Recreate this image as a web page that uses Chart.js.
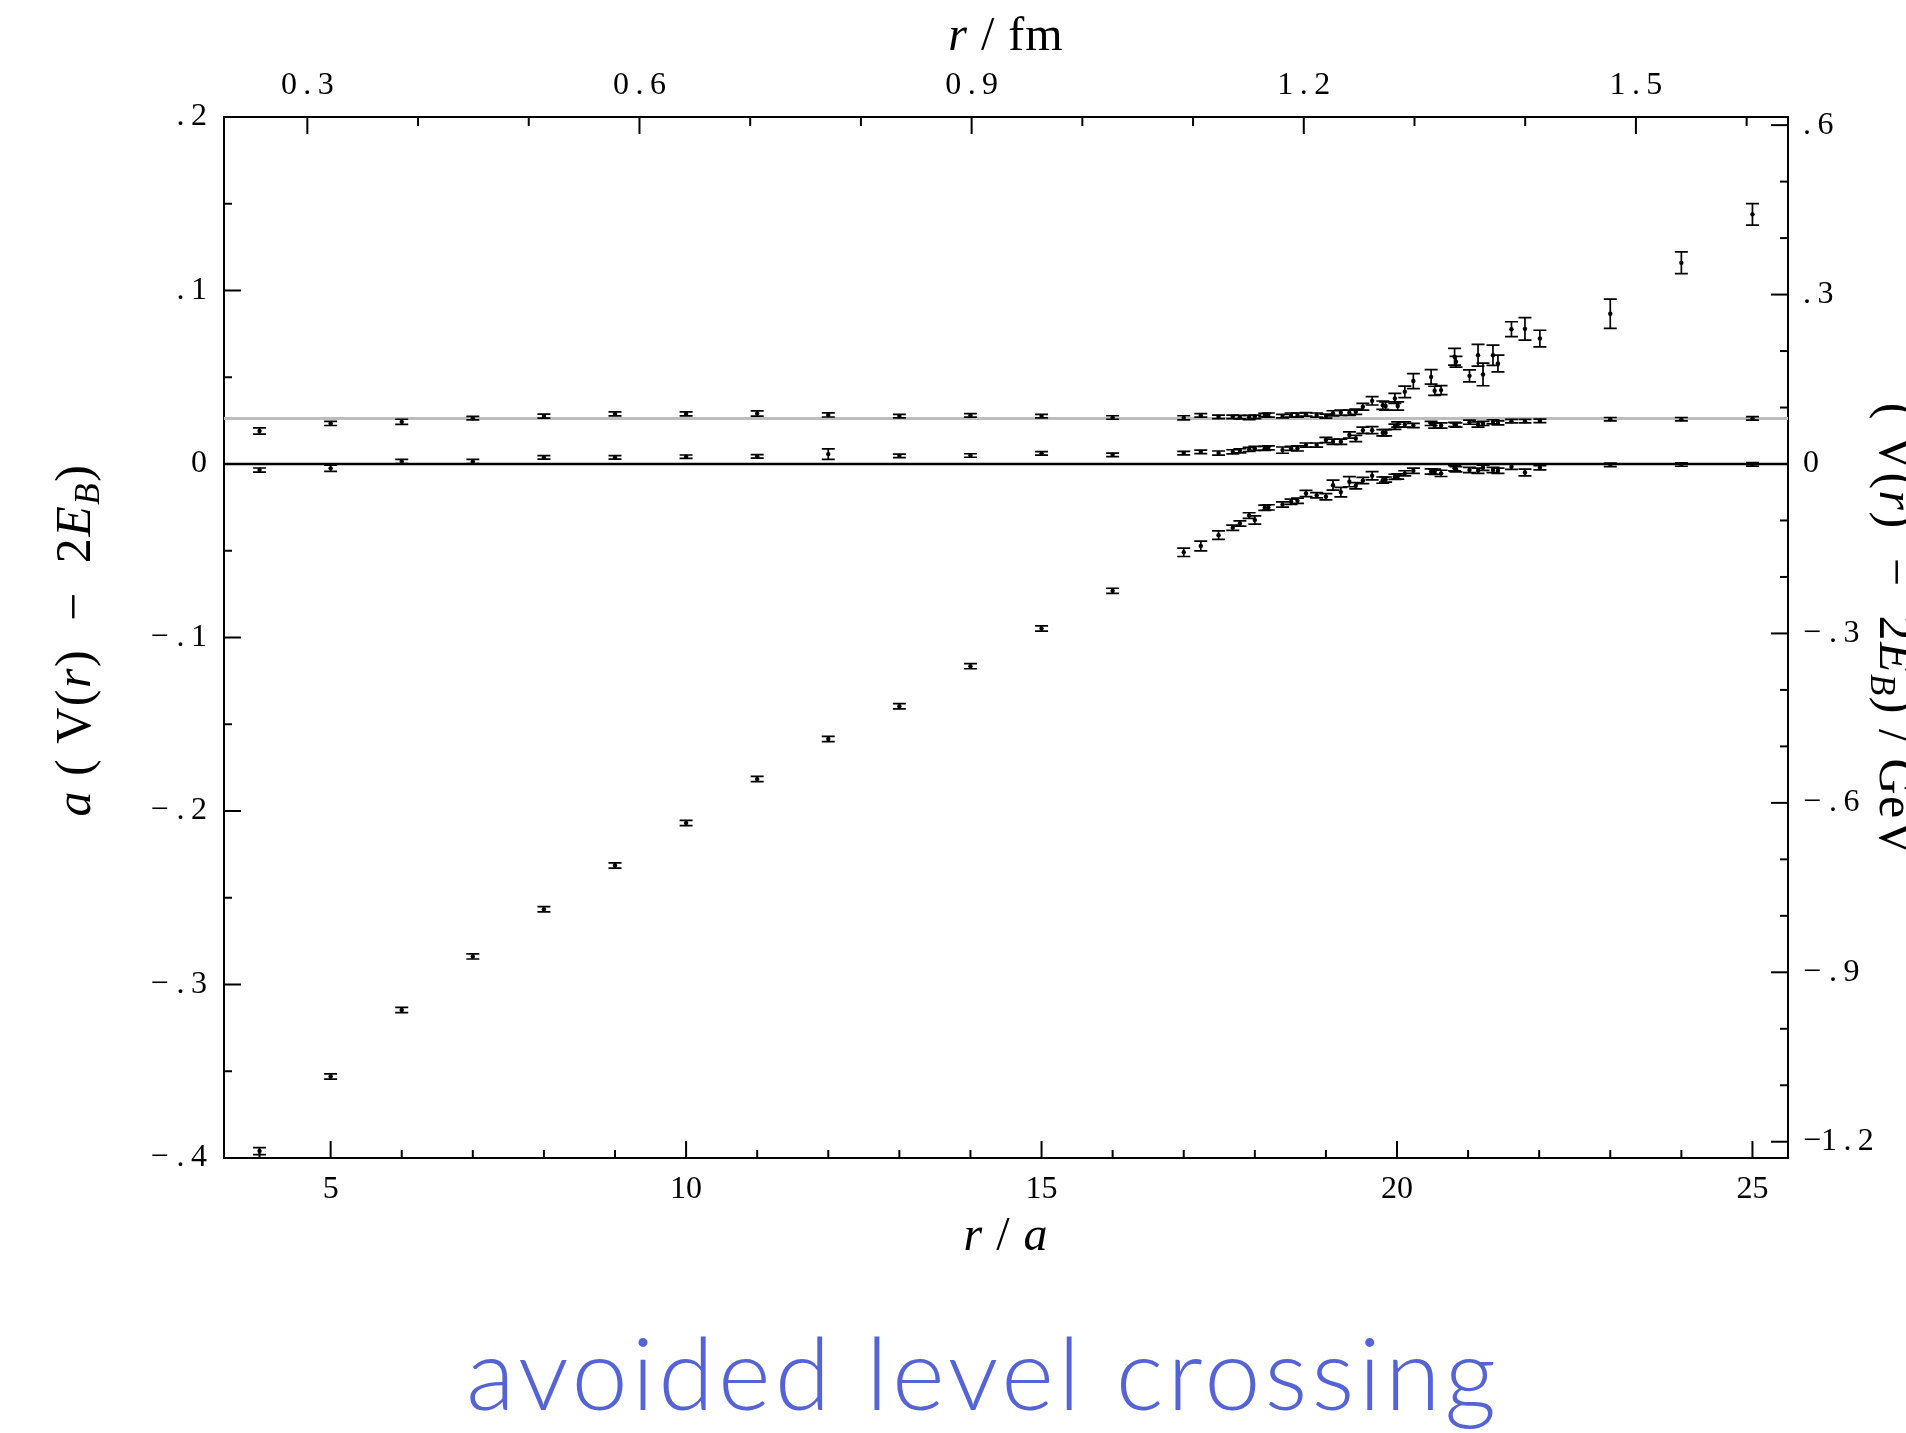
<!DOCTYPE html>
<html>
<head>
<meta charset="utf-8">
<script src="https://cdn.jsdelivr.net/npm/chart.js@4.4.1/dist/chart.umd.min.js"></script>
<style>
  html, body { margin: 0; padding: 0; background: #fff; }
  #wrap { position: relative; width: 1906px; height: 1433px; overflow: hidden; }
  #chart { position: absolute; left: 0; top: 0; }
  #caption {
    position: absolute; left: 983px; top: 1321px; transform: translateX(-50%);
    font-family: Lato, "Open Sans", sans-serif; font-weight: 300; font-size: 101px; line-height: 1;
    letter-spacing: 4px; color: #5563d8; white-space: nowrap;
  }
</style>
</head>
<body>
<div id="wrap">
  <canvas id="chart" width="1906" height="1433"></canvas>
  <div id="caption">avoided level crossing</div>
</div>
<script>
// lattice spacing used for the physical axes
const A_FM = 0.06421;        // a in fm
const A_INV_GEV = 3.072;     // 1/a in GeV
const X_MIN = 3.5, X_MAX = 25.5;
const Y_MIN = -0.4, Y_MAX = 0.2;

// separations r/a
const rValues = [
  4, 5, 6, 7, 8, 9, 10, 11, 12, 13, 14, 15, 16,
  17.00, 17.24, 17.49, 17.69, 17.79, 17.92,
  18.00, 18.14, 18.19, 18.39, 18.51, 18.60, 18.72, 18.87,
  19.00, 19.10, 19.21, 19.33, 19.42, 19.52, 19.65, 19.80, 19.84, 19.97,
  20.01, 20.11, 20.23, 20.48, 20.53, 20.62, 20.81, 20.83,
  21.02, 21.14, 21.21, 21.35, 21.42, 21.61, 21.80,
  22.01,
  23, 24, 25
];

// ground state (string -> broken string)
const groundValues = [
  -0.396, -0.353, -0.3147, -0.2838, -0.2566, -0.2314, -0.2069, -0.1816, -0.1585, -0.1396, -0.1165, -0.0948, -0.0731,
  -0.0509, -0.0473, -0.0410, -0.0367, -0.0343, -0.0297,
  -0.0323, -0.0252, -0.0250, -0.0233, -0.0218, -0.0212, -0.0170, -0.0180,
  -0.0189, -0.0122, -0.0162, -0.0102, -0.0125, -0.0095, -0.0068, -0.0093, -0.0090, -0.0074,
  -0.0072, -0.0054, -0.0039, -0.0043, -0.0045, -0.0054, -0.0025, -0.0030,
  -0.0035, -0.0039, -0.0022, -0.0035, -0.0039, -0.0016, -0.0049,
  -0.0022,
  -0.0005, -0.0003, -0.0002
];
const groundErrors = [
  0.0020, 0.0015, 0.0015, 0.0015, 0.0015, 0.0015, 0.0015, 0.0015, 0.0015, 0.0015, 0.0015, 0.0015, 0.0015,
  0.0024, 0.0028, 0.0025, 0.0015, 0.0015, 0.0016,
  0.0024, 0.0015, 0.0015, 0.0015, 0.0015, 0.0015, 0.0018, 0.0015,
  0.0018, 0.0029, 0.0027, 0.0029, 0.0018, 0.0018, 0.0024, 0.0018, 0.0015, 0.0015,
  0.0015, 0.0015, 0.0015, 0.0015, 0.0015, 0.0018, 0.0015, 0.0015,
  0.0015, 0.0015, 0.0015, 0.0015, 0.0015, 0.0015, 0.0020,
  0.0012,
  0.0010, 0.0010, 0.0010
];

// first excited state
const excited1Values = [
  -0.0035, -0.0025, 0.0015, 0.0015, 0.0038, 0.0038, 0.0042, 0.0044, 0.0057, 0.0047, 0.0049, 0.0061, 0.0053,
  0.0063, 0.0070, 0.0063, 0.0070, 0.0076, 0.0084,
  0.0090, 0.0090, 0.0093, 0.0080, 0.0090, 0.0090, 0.0109, 0.0109,
  0.0138, 0.0128, 0.0128, 0.0167, 0.0147, 0.0195, 0.0195, 0.0180, 0.0180, 0.0215,
  0.0228, 0.0228, 0.0222, 0.0234, 0.0222, 0.0222, 0.0228, 0.0225,
  0.0241, 0.0228, 0.0234, 0.0243, 0.0237, 0.0247, 0.0247,
  0.0249,
  0.0258, 0.0258, 0.0263
];
const excited1Errors = [
  0.0012, 0.0018, 0.0012, 0.0012, 0.0010, 0.0010, 0.0010, 0.0010, 0.0030, 0.0010, 0.0010, 0.0010, 0.0010,
  0.0010, 0.0010, 0.0012, 0.0012, 0.0012, 0.0012,
  0.0012, 0.0012, 0.0012, 0.0018, 0.0012, 0.0015, 0.0012, 0.0012,
  0.0015, 0.0015, 0.0015, 0.0018, 0.0018, 0.0018, 0.0020, 0.0018, 0.0018, 0.0015,
  0.0015, 0.0015, 0.0012, 0.0012, 0.0015, 0.0015, 0.0012, 0.0012,
  0.0012, 0.0015, 0.0012, 0.0012, 0.0012, 0.0010, 0.0010,
  0.0010,
  0.0010, 0.0010, 0.0010
];

// second excited state
const excited2Values = [
  0.0190, 0.0234, 0.0243, 0.0264, 0.0276, 0.0289, 0.0289, 0.0291, 0.0283, 0.0276, 0.0280, 0.0276, 0.0268,
  0.0266, 0.0280, 0.0272, 0.0272, 0.0270, 0.0268,
  0.0272, 0.0282, 0.0282, 0.0276, 0.0282, 0.0282, 0.0286, 0.0282,
  0.0276, 0.0292, 0.0295, 0.0295, 0.0301, 0.0330, 0.0364, 0.0339, 0.0334, 0.0378,
  0.0334, 0.0416, 0.0478, 0.0502, 0.0422, 0.0426, 0.0618, 0.0589,
  0.0508, 0.0627, 0.0516, 0.0627, 0.0579, 0.0777, 0.0779,
  0.0723,
  0.0866, 0.1160, 0.1439
];
const excited2Errors = [
  0.0018, 0.0012, 0.0015, 0.0010, 0.0012, 0.0012, 0.0012, 0.0015, 0.0012, 0.0010, 0.0010, 0.0010, 0.0010,
  0.0012, 0.0010, 0.0010, 0.0010, 0.0010, 0.0012,
  0.0010, 0.0010, 0.0012, 0.0010, 0.0012, 0.0012, 0.0010, 0.0012,
  0.0012, 0.0015, 0.0015, 0.0015, 0.0015, 0.0019, 0.0024, 0.0024, 0.0024, 0.0029,
  0.0024, 0.0033, 0.0043, 0.0042, 0.0026, 0.0026, 0.0048, 0.0031,
  0.0035, 0.0063, 0.0065, 0.0058, 0.0048, 0.0043, 0.0065,
  0.0048,
  0.0084, 0.0063, 0.0062
];

// reference levels: 2E_B (black) and threshold (grey)
const levelValues = [0, 0.0262];
const levelColors = ['#000000', '#bdbdbd'];

// tick labels
const xTicks = [5, 10, 15, 20, 25];
const xTickLabels = ['5', '10', '15', '20', '25'];
const yTicks = [-0.4, -0.3, -0.2, -0.1, 0, 0.1, 0.2];
const yTickLabels = ['\u2212 .\u20094', '\u2212 .\u20093', '\u2212 .\u20092', '\u2212 .\u20091', '0', '.\u20091', '.\u20092'];
const fmTicks = [0.3, 0.6, 0.9, 1.2, 1.5];
const fmTickLabels = ['0\u2009.\u20093', '0\u2009.\u20096', '0\u2009.\u20099', '1\u2009.\u20092', '1\u2009.\u20095'];
const gevTicks = [-1.2, -0.9, -0.6, -0.3, 0, 0.3, 0.6];
const gevTickLabels = ['\u22121\u2009.\u20092', '\u2212 .\u20099', '\u2212 .\u20096', '\u2212 .\u20093', '0', '.\u20093', '.\u20096'];

const SERIF = '"Liberation Serif", "DejaVu Serif", serif';

function points(values) {
  return rValues.map((r, i) => ({ x: r, y: values[i] }));
}

const datasets = [
  { data: points(groundValues), errors: groundErrors },
  { data: points(excited1Values), errors: excited1Errors },
  { data: points(excited2Values), errors: excited2Errors }
].map(d => Object.assign(d, {
  type: 'scatter',
  pointRadius: 2.2,
  pointBackgroundColor: '#000',
  pointBorderWidth: 0,
  order: 0
}));

levelValues.forEach((v, i) => {
  datasets.push({
    type: 'line',
    data: [{ x: X_MIN, y: v }, { x: X_MAX, y: v }],
    borderColor: levelColors[i],
    borderWidth: i === 0 ? 2.5 : 3,
    pointRadius: 0,
    order: 10 - i
  });
});

// vertical error bars with caps
const errorBars = {
  id: 'errorBars',
  afterDatasetsDraw(chart) {
    const { ctx } = chart;
    const xs = chart.scales.x, ys = chart.scales.y;
    ctx.save();
    ctx.strokeStyle = '#000';
    ctx.lineWidth = 1.7;
    chart.data.datasets.forEach(ds => {
      if (!ds.errors) return;
      ds.data.forEach((p, i) => {
        const px = xs.getPixelForValue(p.x);
        const top = ys.getPixelForValue(p.y + ds.errors[i]);
        const bot = ys.getPixelForValue(p.y - ds.errors[i]);
        ctx.beginPath();
        ctx.moveTo(px, top); ctx.lineTo(px, bot);
        ctx.moveTo(px - 6.5, top); ctx.lineTo(px + 6.5, top);
        ctx.moveTo(px - 6.5, bot); ctx.lineTo(px + 6.5, bot);
        ctx.stroke();
      });
    });
    ctx.restore();
  }
};

// inward tick marks on all four sides
const tickMarks = {
  id: 'tickMarks',
  afterDraw(chart) {
    const { ctx, chartArea: a, scales } = chart;
    const seg = (x1, y1, x2, y2) => { ctx.beginPath(); ctx.moveTo(x1, y1); ctx.lineTo(x2, y2); ctx.stroke(); };
    ctx.save();
    ctx.strokeStyle = '#000';
    ctx.lineWidth = 2;
    for (let k = 4; k <= 25; k++) {
      const px = scales.x.getPixelForValue(k);
      seg(px, a.bottom, px, a.bottom - (k % 5 === 0 ? 17 : 8));
    }
    for (let k = 3; k <= 16; k++) {
      const px = scales.x2.getPixelForValue(k / 10);
      seg(px, a.top, px, a.top + (k % 3 === 0 ? 17 : 9));
    }
    for (let k = -8; k <= 4; k++) {
      const py = scales.y.getPixelForValue(k * 0.05);
      seg(a.left, py, a.left + (k % 2 === 0 ? 17 : 8), py);
    }
    for (let k = -12; k <= 6; k++) {
      const py = scales.y2.getPixelForValue(k / 10);
      seg(a.right, py, a.right - (k % 3 === 0 ? 17 : 8), py);
    }
    ctx.restore();
  }
};

// axis titles with italic symbols and subscripts
function richText(ctx, parts, size, cx, cy, angle, spacing) {
  const fontFor = st => (st === 'n' ? '' : 'italic ') + (st === 's' ? size * 0.7 : size) + 'px ' + SERIF;
  ctx.save();
  ctx.letterSpacing = spacing + 'px';
  let total = 0;
  const widths = parts.map(([t, st]) => { ctx.font = fontFor(st); const w = ctx.measureText(t).width; total += w; return w; });
  ctx.translate(cx, cy);
  ctx.rotate(angle);
  ctx.fillStyle = '#000';
  ctx.textBaseline = 'alphabetic';
  ctx.textAlign = 'left';
  let x = -total / 2;
  parts.forEach(([t, st], i) => {
    ctx.font = fontFor(st);
    ctx.fillText(t, x, st === 's' ? size * 0.18 : 0);
    x += widths[i];
  });
  ctx.restore();
}

const axisTitles = {
  id: 'axisTitles',
  afterDraw(chart) {
    const { ctx, chartArea: a } = chart;
    const mid = (a.left + a.right) / 2;
    richText(ctx, [['r', 'i'], [' / ', 'n'], ['a', 'i']], 48, mid, 1250, 0, 1);
    richText(ctx, [['r', 'i'], [' / fm', 'n']], 48, mid, 50, 0, 1);
    richText(ctx, [['a', 'i'], [' ( V(', 'n'], ['r', 'i'], [')  \u2212  2', 'n'], ['E', 'i'], ['B', 's'], [')', 'n']],
      50, 90, 640, -Math.PI / 2, 1.5);
    richText(ctx, [['( V(', 'n'], ['r', 'i'], [')  \u2212  2', 'n'], ['E', 'i'], ['B', 's'], [') / GeV', 'n']],
      50, 1880, 630, Math.PI / 2, 1.5);
  }
};

function fixedTicks(values) {
  return scale => { scale.ticks = values.map(v => ({ value: v })); };
}
function fixedSize(prop, size) {
  return scale => { scale[prop] = size; };
}

const tickFont = { family: SERIF, size: 32 };
const border = { display: true, color: '#000', width: 2 };
const noGrid = { display: false, drawTicks: false };

new Chart(document.getElementById('chart'), {
  type: 'scatter',
  data: { datasets },
  options: {
    responsive: false,
    animation: false,
    devicePixelRatio: 1,
    layout: { padding: 0 },
    plugins: { legend: { display: false }, tooltip: { enabled: false } },
    scales: {
      x: {
        type: 'linear', position: 'bottom', min: X_MIN, max: X_MAX,
        afterBuildTicks: fixedTicks(xTicks),
        afterFit: fixedSize('height', 1433 - 1158),
        grid: noGrid, border,
        ticks: { font: tickFont, color: '#000', padding: 12, maxRotation: 0, autoSkip: false,
                 callback: (v, i) => xTickLabels[i] }
      },
      x2: {
        type: 'linear', position: 'top', min: X_MIN * A_FM, max: X_MAX * A_FM,
        afterBuildTicks: fixedTicks(fmTicks),
        afterFit: fixedSize('height', 117),
        grid: noGrid, border,
        ticks: { font: tickFont, color: '#000', padding: 12, maxRotation: 0, autoSkip: false,
                 callback: (v, i) => fmTickLabels[i] }
      },
      y: {
        type: 'linear', position: 'left', min: Y_MIN, max: Y_MAX,
        afterBuildTicks: fixedTicks(yTicks),
        afterFit: fixedSize('width', 224),
        grid: noGrid, border,
        ticks: { font: tickFont, color: '#000', padding: 17, autoSkip: false,
                 callback: (v, i) => yTickLabels[i] }
      },
      y2: {
        type: 'linear', position: 'right', min: Y_MIN * A_INV_GEV, max: Y_MAX * A_INV_GEV,
        afterBuildTicks: fixedTicks(gevTicks),
        afterFit: fixedSize('width', 1906 - 1788),
        grid: noGrid, border,
        ticks: { font: tickFont, color: '#000', padding: 15, autoSkip: false,
                 callback: (v, i) => gevTickLabels[i] }
      }
    }
  },
  plugins: [errorBars, tickMarks, axisTitles]
});
</script>
</body>
</html>
